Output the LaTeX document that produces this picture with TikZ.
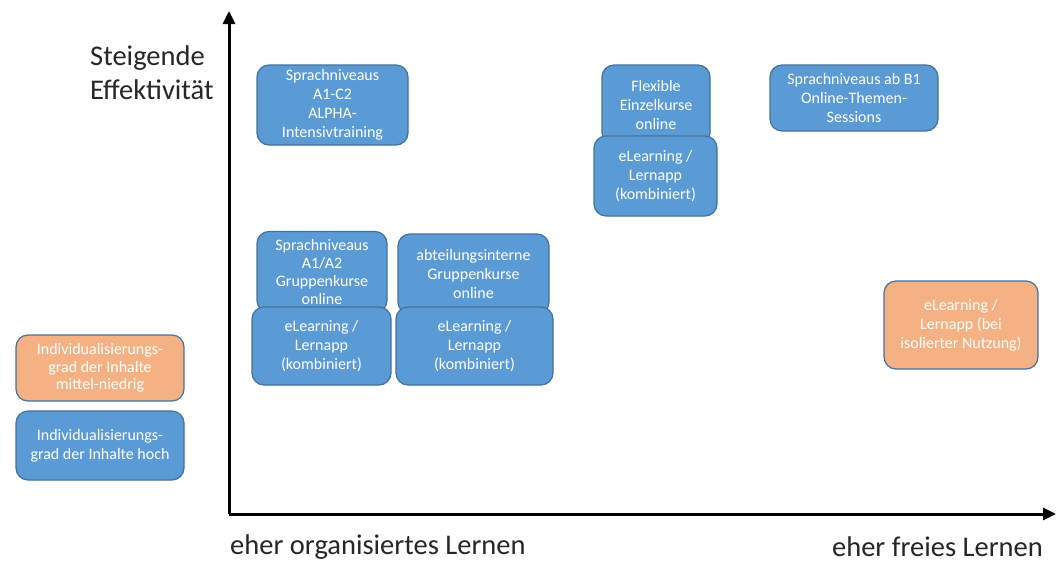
\documentclass[tikz,border=0pt]{standalone}
\usepackage{fontspec}
\setmainfont{Carlito}
\usetikzlibrary{arrows.meta}
\definecolor{boxblue}{HTML}{5B9BD5}
\definecolor{boxorange}{HTML}{F4B183}
\definecolor{boxline}{HTML}{41719C}
\definecolor{labeltext}{HTML}{262626}
\tikzset{
  box/.style={draw=boxline, line width=1.2pt, rounded corners=12pt, text=white,
    align=center, font=\fontsize{16}{19}\selectfont, inner sep=2pt},
  bluebox/.style={box, fill=boxblue},
  orangebox/.style={box, fill=boxorange},
  axis/.style={line width=3pt, -{Triangle[length=13pt,width=12pt]}},
  axislabel/.style={font=\fontsize{28.5}{34}\selectfont, inner sep=0pt, text=labeltext}
}
\begin{document}
\begin{tikzpicture}[x=1pt,y=-1pt]
  \useasboundingbox (0,0) rectangle (1056,562);
  % axes
  \coordinate (o) at (229,514);
  \coordinate (ytop) at (229,11);
  \coordinate (xend) at (1056,514);
  \draw[axis] (o) -- (ytop);
  \draw[axis] (o) -- (xend);
  \node[axislabel, align=left, anchor=north west] (eff) at (90,46) {Steigende\\Effektivität};
  \node[axislabel, anchor=west] (org) at (230,547) {eher organisiertes Lernen};
  \node[axislabel, anchor=east] (frei) at (1043,547) {eher freies Lernen};
  % legend
  \node[orangebox, minimum width=168pt, minimum height=66pt,
    font=\fontsize{16}{17.5}\selectfont] (legmid) at (100,368)
    {Individualisierungs-\\grad der Inhalte\\mittel-niedrig};
  \node[bluebox, minimum width=168pt, minimum height=69pt] (leghoch) at (100,445.5)
    {Individualisierungs-\\grad der Inhalte hoch};
  % boxes
  \node[bluebox, minimum width=151pt, minimum height=80pt] (a1c2) at (332.5,105)
    {Sprachniveaus\\A1-C2\\ALPHA-\\Intensivtraining};
  \node[bluebox, minimum width=130pt, minimum height=81pt,
    font=\fontsize{16}{18}\selectfont] (a1a2) at (322,272)
    {Sprachniveaus\\A1/A2\\Gruppenkurse\\online};
  \node[bluebox, minimum width=139pt, minimum height=78pt] (elA) at (321.5,346)
    {eLearning /\\Lernapp\\(kombiniert)};
  \node[bluebox, minimum width=151pt, minimum height=80pt] (abt) at (473.5,274)
    {abteilungsinterne\\Gruppenkurse\\online};
  \node[bluebox, minimum width=157pt, minimum height=78pt] (elB) at (474.5,346)
    {eLearning /\\Lernapp\\(kombiniert)};
  \node[bluebox, minimum width=108pt, minimum height=80pt] (flex) at (656,105)
    {Flexible\\Einzelkurse\\online};
  \node[bluebox, minimum width=123pt, minimum height=80pt] (elC) at (655.5,176)
    {eLearning /\\Lernapp\\(kombiniert)};
  \node[bluebox, minimum width=168pt, minimum height=66pt] (b1) at (854,98)
    {Sprachniveaus ab B1\\Online-Themen-\\Sessions};
  \node[orangebox, minimum width=154pt, minimum height=88pt] (iso) at (961,325)
    {eLearning /\\Lernapp (bei\\isolierter Nutzung)};
\end{tikzpicture}
\end{document}
